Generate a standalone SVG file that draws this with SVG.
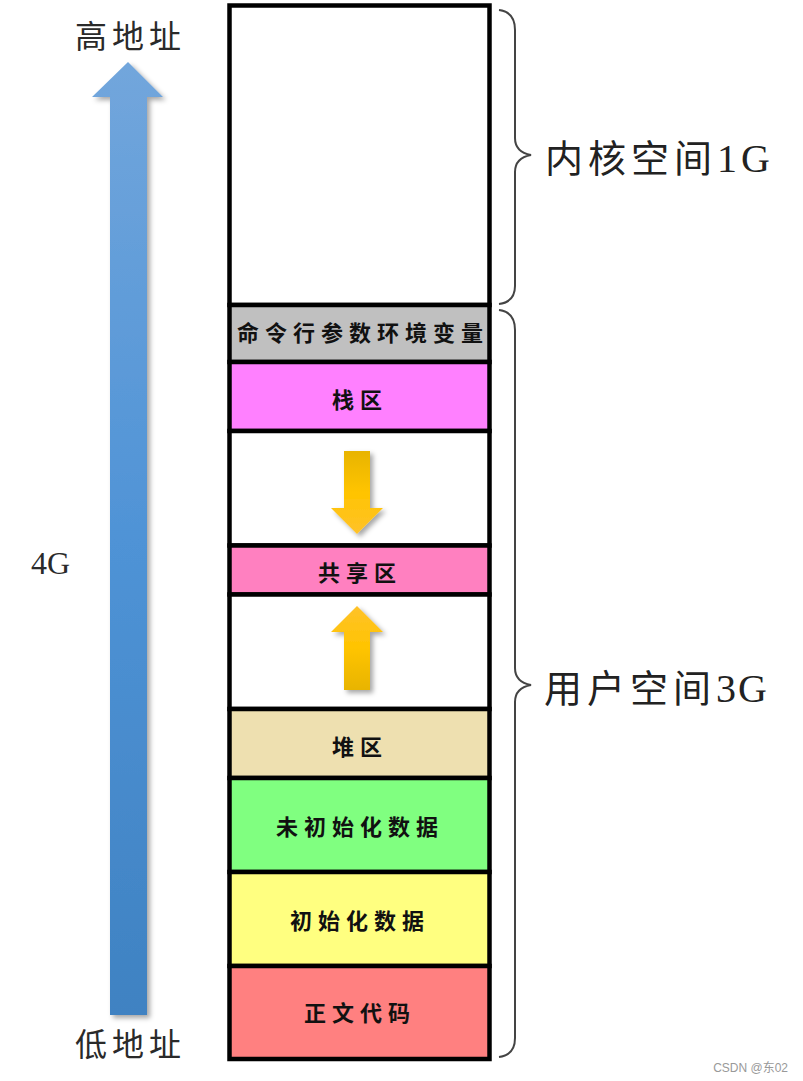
<svg xmlns="http://www.w3.org/2000/svg" width="803" height="1081" viewBox="0 0 803 1081">
<style>
.seg{stroke:#000;stroke-width:4.5}
.lbl{font-family:"Noto Sans CJK SC","Liberation Serif",sans-serif;font-weight:bold;font-size:22px;fill:#111;text-anchor:middle;letter-spacing:6px}
.side{font-family:"Liberation Serif","Noto Sans CJK SC",serif;font-size:32px;fill:#2a2a2a}
.big{font-family:"Liberation Serif","Noto Sans CJK SC",serif;font-size:38px;fill:#222}
.brace{fill:none;stroke:#444;stroke-width:2}
</style>
<defs>
<linearGradient id="blue" x1="0" y1="0" x2="0" y2="1">
<stop offset="0" stop-color="#72a6dc"/>
<stop offset="0.5" stop-color="#4f93d6"/>
<stop offset="1" stop-color="#3f82c2"/>
</linearGradient>
<linearGradient id="gold" x1="0" y1="0" x2="0" y2="1">
<stop offset="0" stop-color="#e8b400"/>
<stop offset="0.5" stop-color="#ffc400"/>
<stop offset="1" stop-color="#ffc22a"/>
</linearGradient>
<linearGradient id="goldUp" x1="0" y1="1" x2="0" y2="0">
<stop offset="0" stop-color="#e8b400"/>
<stop offset="0.5" stop-color="#ffc400"/>
<stop offset="1" stop-color="#ffc22a"/>
</linearGradient>
<filter id="sh" x="-50%" y="-10%" width="200%" height="120%">
<feDropShadow dx="3" dy="3" stdDeviation="2.5" flood-color="#000" flood-opacity="0.35"/>
</filter>
</defs>

<g id="address-arrow">
<polygon points="128,62 163,97 147,97 147,1015 110,1015 110,97 92,97" fill="url(#blue)" filter="url(#sh)"/>
</g>
<g id="labels-left">
<text class="side" x="75" y="48" letter-spacing="5">高地址</text>
<text class="side" x="31" y="574" font-size="36">4G</text>
<text class="side" x="75" y="1056" letter-spacing="5">低地址</text>
</g>

<g id="kernel"><rect class="seg" x="229.5" y="5.5" width="260" height="299.5" fill="#fff"/></g>
<g id="cmdline"><rect class="seg" x="229.5" y="305" width="260" height="57" fill="#c0c0c0"/>
<text class="lbl" x="363" y="341" letter-spacing="6" font-size="21">命令行参数环境变量</text></g>
<g id="stack"><rect class="seg" x="229.5" y="362" width="260" height="69" fill="#ff80ff"/>
<text class="lbl" x="360" y="408">栈区</text></g>
<g id="gap1"><rect class="seg" x="229.5" y="431" width="260" height="114.5" fill="#fff"/></g>
<g id="shared"><rect class="seg" x="229.5" y="545.5" width="260" height="49" fill="#ff80c0"/>
<text class="lbl" x="360" y="581">共享区</text></g>
<g id="gap2"><rect class="seg" x="229.5" y="594.5" width="260" height="114.5" fill="#fff"/></g>
<g id="heap"><rect class="seg" x="229.5" y="709" width="260" height="69" fill="#eee0b0"/>
<text class="lbl" x="360" y="755">堆区</text></g>
<g id="bss"><rect class="seg" x="229.5" y="778" width="260" height="94" fill="#80ff80"/>
<text class="lbl" x="360" y="835">未初始化数据</text></g>
<g id="data"><rect class="seg" x="229.5" y="872" width="260" height="94" fill="#ffff80"/>
<text class="lbl" x="360" y="929">初始化数据</text></g>
<g id="text"><rect class="seg" x="229.5" y="966" width="260" height="93" fill="#ff8080"/>
<text class="lbl" x="360" y="1021">正文代码</text></g>

<g id="connectors">
<polygon points="344,451 370,451 370,508 383,508 357,534 331,508 344,508" fill="url(#gold)" filter="url(#sh)"/>
<polygon points="357,606 383,632 370,632 370,690 344,690 344,632 331,632" fill="url(#goldUp)" filter="url(#sh)"/>
<path class="brace" d="M499,10 Q515,12 515,30 L515,138 Q515,152 531,155 Q515,158 515,172 L515,286 Q515,302 499,304"/>
<path class="brace" d="M499,310 Q515,312 515,330 L515,668 Q515,682 531,685 Q515,688 515,702 L515,1038 Q515,1055 499,1057"/>
</g>

<g id="labels-right">
<text class="big" x="545" y="172"><tspan letter-spacing="5">内核空间</tspan><tspan font-size="40" letter-spacing="4">1G</tspan></text>
<text class="big" x="544" y="702"><tspan letter-spacing="5">用户空间</tspan><tspan font-size="40" letter-spacing="2">3G</tspan></text>
</g>
<text x="788" y="1072" font-family="Liberation Sans,'Noto Sans CJK SC',sans-serif" font-size="12" fill="#999" text-anchor="end">CSDN @东02</text>
</svg>
